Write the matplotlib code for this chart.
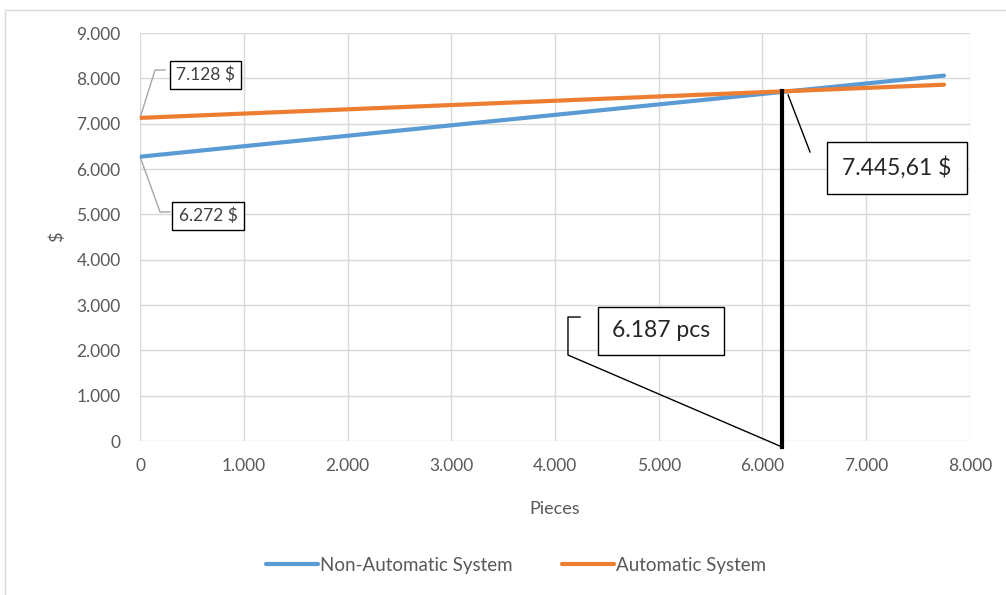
import matplotlib
matplotlib.use("Agg")
import matplotlib.pyplot as plt
from matplotlib.patches import Rectangle
from matplotlib.ticker import FuncFormatter, MultipleLocator

plt.rcParams['font.family'] = ['Lato', 'DejaVu Sans']

# cost lines (pieces -> $)
pieces = [0, 7750]
non_auto = [6272, 8060]
auto = [7128, 7860]

break_even_pcs = 6187
break_even_cost = 7445.61

grey = '#595959'

fig = plt.figure(figsize=(10.06, 5.95), dpi=100)
ax = fig.add_axes([0.1392, 0.2588, 0.8250, 0.6857])

# outer chart frame
fig.patches.append(Rectangle((0.005, -0.01), 1.01, 0.993, transform=fig.transFigure,
                             fill=False, edgecolor='#d9d9d9', lw=1))

ax.plot(pieces, non_auto, color='#5B9BD5', lw=3, label='Non-Automatic System', solid_capstyle='round', zorder=3)
ax.plot(pieces, auto, color='#ED7D31', lw=3, label='Automatic System', solid_capstyle='round', zorder=3)

# break-even marker
slope_a = (auto[1] - auto[0]) / (pieces[1] - pieces[0])
top_y = auto[0] + slope_a * break_even_pcs
ax.plot([break_even_pcs, break_even_pcs], [-130, top_y], color='black', lw=3, clip_on=False, zorder=4)

ax.set_xlim(0, 8000)
ax.set_ylim(0, 9000)
ax.xaxis.set_major_locator(MultipleLocator(1000))
ax.yaxis.set_major_locator(MultipleLocator(1000))
fmt = FuncFormatter(lambda v, p: f"{int(v):,}".replace(',', '.'))
ax.xaxis.set_major_formatter(fmt)
ax.yaxis.set_major_formatter(fmt)
ax.grid(True, color='#d9d9d9', lw=1)
ax.set_axisbelow(True)
for s in ax.spines.values():
    s.set_visible(False)
ax.tick_params(length=0, labelsize=12.5, labelcolor=grey)
ax.tick_params(axis='x', pad=12)
ax.tick_params(axis='y', pad=14)

ax.set_xlabel('Pieces', fontsize=13, color=grey, labelpad=20)
ax.set_ylabel('$', fontsize=13, color=grey, labelpad=8)

box = dict(boxstyle='square,pad=0.35', facecolor='white', edgecolor='black', lw=1)

# value callouts
ax.plot([0, 145, 241], [auto[0], 8185, 8185], color='#a6a6a6', lw=1, clip_on=False)
ax.text(627, 8074, '7.128 $', fontsize=12.5, color='#404040', ha='center', va='center', bbox=box)

ax.plot([0, 193, 289], [non_auto[0], 5052, 5052], color='#a6a6a6', lw=1, clip_on=False)
ax.text(655, 4964, '6.272 $', fontsize=12.5, color='#404040', ha='center', va='center', bbox=box)

ax.plot([break_even_pcs + 60, 6458], [top_y - 80, 6376], color='black', lw=1, clip_on=False)
ax.text(7296, 6023, f"{break_even_cost:,.2f}".replace(',', 'X').replace('.', ',').replace('X', '.') + ' $',
        fontsize=16.5, color='#262626', ha='center', va='center',
        bbox=dict(boxstyle='square,pad=0.65', facecolor='white', edgecolor='black', lw=1))

ax.plot([4241, 4125, 4125, break_even_pcs], [2735, 2735, 1897, -130], color='black', lw=1, clip_on=False)
ax.text(5022, 2427, f"{break_even_pcs:,}".replace(',', '.') + ' pcs', fontsize=16.5, color='#262626',
        ha='center', va='center',
        bbox=dict(boxstyle='square,pad=0.6', facecolor='white', edgecolor='black', lw=1))

leg = fig.legend(loc='center', bbox_to_anchor=(0.513, 0.05), ncol=2, frameon=False,
                 fontsize=13.5, handlelength=2.8, handletextpad=0.1, columnspacing=2.6)
for t in leg.get_texts():
    t.set_color(grey)

fig.savefig('out.png', dpi=100)
